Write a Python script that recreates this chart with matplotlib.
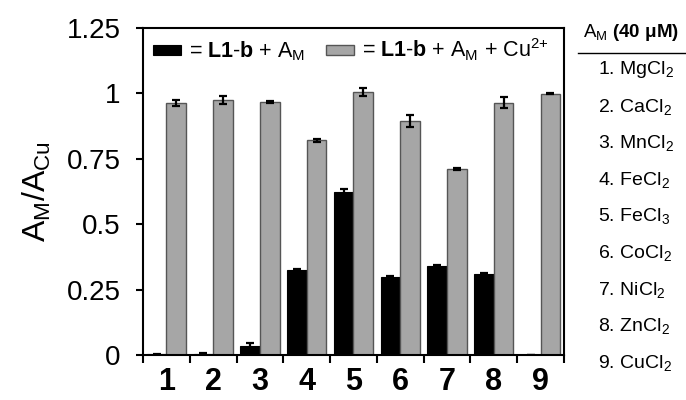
import matplotlib
matplotlib.use("Agg")
import matplotlib.pyplot as plt
import numpy as np

plt.rcParams["font.family"] = ["Liberation Sans", "DejaVu Sans"]
plt.rcParams["mathtext.fontset"] = "custom"
plt.rcParams["mathtext.rm"] = "Liberation Sans"
plt.rcParams["mathtext.it"] = "Liberation Sans:italic"
plt.rcParams["mathtext.bf"] = "Liberation Sans:bold"

# Samples 1-9 (metal salts, 40 uM)
categories = ["1", "2", "3", "4", "5", "6", "7", "8", "9"]
salts = [r"MgCl$_2$", r"CaCl$_2$", r"MnCl$_2$", r"FeCl$_2$", r"FeCl$_3$",
         r"CoCl$_2$", r"NiCl$_2$", r"ZnCl$_2$", r"CuCl$_2$"]

# L1-b + A_M
metal_only = [0.003, 0.004, 0.034, 0.326, 0.624, 0.300, 0.341, 0.310, 0.0]
metal_only_err = [0.002, 0.004, 0.010, 0.004, 0.012, 0.003, 0.004, 0.004, 0.0]

# L1-b + A_M + Cu2+
with_cu = [0.964, 0.975, 0.967, 0.821, 1.005, 0.895, 0.712, 0.964, 0.999]
with_cu_err = [0.011, 0.014, 0.003, 0.005, 0.015, 0.022, 0.003, 0.021, 0.002]

yticks = [0, 0.25, 0.5, 0.75, 1, 1.25]
ytick_labels = ["0", "0.25", "0.5", "0.75", "1", "1.25"]

fig = plt.figure(figsize=(6.86, 4.0), dpi=100)
ax = fig.add_axes([0.2085, 0.1125, 0.6135, 0.8175])

x = np.arange(1, len(categories) + 1)
w = 0.42
err_kw = dict(ecolor="black", elinewidth=1.6, capsize=3, capthick=1.6)
b1 = ax.bar(x - w / 2, metal_only, w, yerr=metal_only_err, color="black",
            edgecolor="black", linewidth=0.8, error_kw=err_kw, zorder=2)
b2 = ax.bar(x + w / 2, with_cu, w, yerr=with_cu_err, color="#a6a6a6",
            edgecolor="#555555", linewidth=1.0, error_kw=err_kw, zorder=2)

ax.set_xlim(0.5, 9.5)
ax.set_ylim(0, 1.25)
ax.set_yticks(yticks)
ax.set_yticklabels(ytick_labels, fontsize=20)

# category numbers centred, ticks on group boundaries
ax.set_xticks(np.arange(0.5, 10.0, 1.0))
ax.set_xticklabels([])
ax.set_xticks(x, minor=True)
ax.set_xticklabels(categories, minor=True, fontsize=22, fontweight="bold")
ax.tick_params(axis="x", which="minor", length=0, pad=9)
ax.tick_params(axis="x", which="major", direction="out", length=6, width=1.5)
ax.tick_params(axis="y", direction="out", length=5, width=1.5, pad=11)
for s in ax.spines.values():
    s.set_linewidth(1.5)

ax.set_ylabel(r"A$_\mathrm{M}$/A$_\mathrm{Cu}$", fontsize=23)
ax.yaxis.set_label_coords(-0.214, 0.5)

leg = ax.legend([b1, b2],
                [r"= $\mathbf{L1}$-$\mathbf{b}$ + A$_\mathrm{M}$",
                 r"= $\mathbf{L1}$-$\mathbf{b}$ + A$_\mathrm{M}$ + Cu$^\text{2+}$"],
                loc="upper left", bbox_to_anchor=(-0.012, 1.02), ncol=2,
                frameon=False, fontsize=15.5, handlelength=1.3, handleheight=0.35,
                handletextpad=0.35, columnspacing=1.0, borderaxespad=0.3)

# key for sample numbers
fig.text(0.920, 0.918, r"A$_\mathrm{M}$ $\mathbf{(40\ μM)}$", fontsize=13.5,
         ha="center", va="center")
fig.add_artist(plt.Line2D([0.843, 1.0], [0.868, 0.868], color="black",
                          linewidth=1.0, transform=fig.transFigure))
for i, (c, s) in enumerate(zip(categories, salts)):
    fig.text(0.872, 0.825 - i * 0.0915, f"{c}. {s}", fontsize=14,
             ha="left", va="center")

fig.savefig("out.png", dpi=100)
